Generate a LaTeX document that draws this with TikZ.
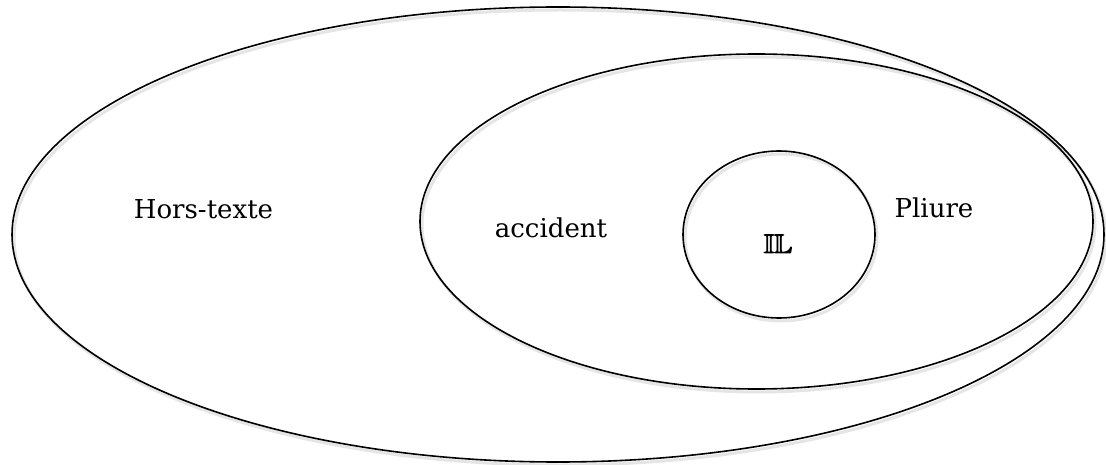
\documentclass[tikz,border=0pt]{standalone}
\usepackage{fontspec}
\usepackage{amssymb}
\setmainfont{DejaVu Serif}
\usetikzlibrary{shapes.geometric}
\newcommand{\thickbb}[1]{\special{pdf:literal direct q 2 Tr 0.9 w}$\mathbb{#1}$\special{pdf:literal direct Q}}
\tikzset{
  ring/.style={ellipse, draw=black, line width=1.6pt, inner sep=0pt, outer sep=0pt},
  shade/.style={ellipse, draw=black!10, line width=3pt, inner sep=0pt, outer sep=0pt},
  lbl/.style={anchor=base, font=\fontsize{26}{30}\selectfont, inner sep=0pt},
  ilbl/.style={anchor=base, font=\fontsize{27}{30}\selectfont, inner sep=0pt}
}
\begin{document}
\begin{tikzpicture}[x=1pt,y=-1pt]
\useasboundingbox (0,0) rectangle (1106,465);
% soft shadows
\node[shade, minimum width=1092pt, minimum height=455pt] at (560,237.5) {};
\node[shade, minimum width=673pt, minimum height=335pt] at (758.5,224.5) {};
\node[shade, minimum width=192pt, minimum height=167pt] at (781,237.5) {};
% rings
\node[ring, minimum width=1092pt, minimum height=455pt] (outer) at (558,234.5) {};
\node[ring, minimum width=673pt, minimum height=335pt] (middle) at (756.5,221.5) {};
\node[ring, minimum width=192pt, minimum height=167pt] (inner) at (779,234.5) {};
% labels
\node[lbl] (hors) at (203.5,219) {Hors-texte};
\node[lbl] (acc) at (551,238) {accident};
\node[lbl] (pli) at (934,218) {Pliure};
\node[ilbl] (il) at (778,253) {\thickbb{IL}};
\end{tikzpicture}
\end{document}
